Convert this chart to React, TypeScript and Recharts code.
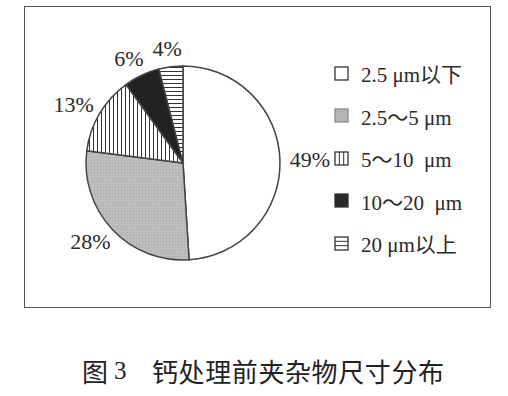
import React from "react";
import { PieChart, Pie, Cell, Legend } from "recharts";

// 钙处理前夹杂物尺寸分布 (%)
const sizeClasses = ["2.5 μm以下", "2.5～5 μm", "5～10  μm", "10～20  μm", "20 μm以上"];
const shares = [49, 28, 13, 6, 4];
const sliceFills = ["#ffffff", "url(#grayTex)", "url(#vStripe)", "#222222", "url(#hStripe)"];
const iconKinds = ["blank", "gray", "vlines", "black", "hlines"];
const captionNo = "3";
const captionText = "钙处理前夹杂物尺寸分布";

const data = sizeClasses.map((name, i) => ({ name, value: shares[i] }));

const RADIAN = Math.PI / 180;
const serif = '"Liberation Serif", "DejaVu Serif", "Noto Sans CJK SC", serif';

const renderLabel = (props: any) => {
  const { cx, cy, midAngle, outerRadius, value } = props;
  // labels sit a little further out sideways than up/down (text is wider than tall)
  const x = cx + (outerRadius + 30) * Math.cos(-midAngle * RADIAN);
  const y = cy + (outerRadius + 18) * Math.sin(-midAngle * RADIAN);
  return (
    <text
      x={x}
      y={y}
      textAnchor="middle"
      dominantBaseline="central"
      fill="#2a2a2a"
      fontSize={22}
      fontFamily={serif}
    >
      {`${value}%`}
    </text>
  );
};

function LegendIcon({ kind }: { kind: string }) {
  const fill = kind === "gray" ? "#b5b5b5" : kind === "black" ? "#2a2a2a" : "#fff";
  const stroke = kind === "gray" ? "#8a8a8a" : "#333";
  return (
    <svg width={15} height={15} style={{ display: "block" }}>
      <rect x={1} y={1} width={13} height={13} fill={fill} stroke={stroke} strokeWidth={1.3} />
      {kind === "vlines" && (
        <>
          <line x1={5.3} y1={1} x2={5.3} y2={14} stroke="#333" strokeWidth={1} />
          <line x1={9.7} y1={1} x2={9.7} y2={14} stroke="#333" strokeWidth={1} />
        </>
      )}
      {kind === "hlines" && (
        <>
          <line x1={1} y1={5.3} x2={14} y2={5.3} stroke="#333" strokeWidth={1} />
          <line x1={1} y1={9.7} x2={14} y2={9.7} stroke="#333" strokeWidth={1} />
        </>
      )}
    </svg>
  );
}

const renderLegend = (props: any) => {
  const items = [...(props.payload || [])].sort(
    (a: any, b: any) => sizeClasses.indexOf(a.value) - sizeClasses.indexOf(b.value)
  );
  return (
    <div style={{ fontFamily: serif, fontSize: 21, color: "#2a2a2a" }}>
      {items.map((entry: any) => (
        <div
          key={entry.value}
          style={{ display: "flex", alignItems: "center", height: 42.5, whiteSpace: "pre" }}
        >
          <LegendIcon kind={iconKinds[sizeClasses.indexOf(entry.value)]} />
          <span style={{ marginLeft: 12 }}>{entry.value}</span>
        </div>
      ))}
    </div>
  );
};

export default function App() {
  return (
    <div style={{ position: "absolute", left: 0, top: 0, width: 508, height: 396, background: "#fff" }}>
      <div
        style={{
          position: "absolute",
          left: 24,
          top: 6,
          width: 465,
          height: 300,
          border: "1.5px solid #555",
        }}
      >
        <PieChart width={465} height={300}>
          <defs>
            <pattern id="grayTex" width={3} height={3} patternUnits="userSpaceOnUse">
              <rect width={3} height={3} fill="#bdbdbd" />
              <rect width={1} height={1} fill="#a8a8a8" />
            </pattern>
            <pattern id="vStripe" width={4} height={4} patternUnits="userSpaceOnUse">
              <rect width={4} height={4} fill="#fff" />
              <line x1={0.5} y1={0} x2={0.5} y2={4} stroke="#333" strokeWidth={1} />
            </pattern>
            <pattern id="hStripe" width={4} height={4} patternUnits="userSpaceOnUse">
              <rect width={4} height={4} fill="#fff" />
              <line x1={0} y1={0.5} x2={4} y2={0.5} stroke="#333" strokeWidth={1} />
            </pattern>
          </defs>
          <Pie
            data={data}
            dataKey="value"
            nameKey="name"
            cx={153}
            cy={151}
            outerRadius={97}
            startAngle={90}
            endAngle={-270}
            stroke="#444"
            strokeWidth={1.5}
            label={renderLabel}
            labelLine={false}
            isAnimationActive={false}
          >
            {data.map((d, i) => (
              <Cell key={d.name} fill={sliceFills[i]} />
            ))}
          </Pie>
          <Legend
            layout="vertical"
            verticalAlign="top"
            align="right"
            content={renderLegend}
            wrapperStyle={{ left: 309, top: 45, width: 160 }}
          />
        </PieChart>
      </div>
      <div
        style={{
          position: "absolute",
          top: 355,
          left: 0,
          width: 508,
          height: 32,
          fontFamily: '"Noto Sans CJK SC", sans-serif',
          fontSize: 26,
          color: "#222",
          whiteSpace: "pre",
          lineHeight: "32px",
        }}
      >
        <span style={{ position: "absolute", left: 82 }}>图</span>
        <span style={{ position: "absolute", left: 114, fontFamily: serif, fontSize: 25 }}>{captionNo}</span>
        <span style={{ position: "absolute", left: 152, letterSpacing: 0.6 }}>{captionText}</span>
      </div>
    </div>
  );
}
